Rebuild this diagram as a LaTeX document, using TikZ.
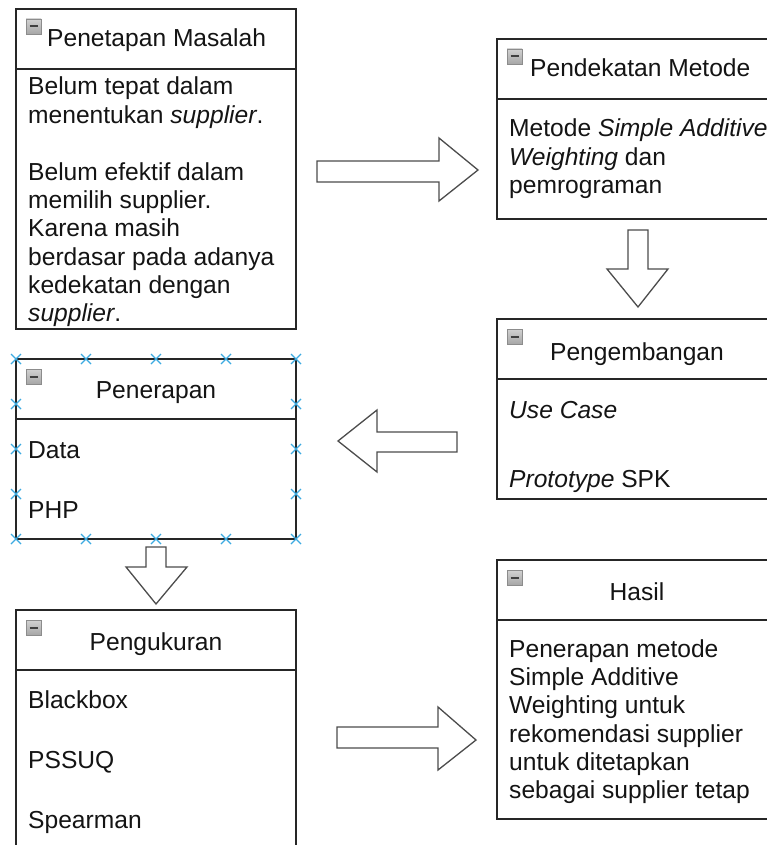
\documentclass[tikz,border=0pt]{standalone}
\usepackage{fontspec}
\setmainfont{Liberation Sans}
\newcommand{\collapseicon}[1]{%
  \path[icon] (#1.north west) ++(10,10) rectangle ++(15,15);
  \draw[black!75, line width=2pt] (#1.north west) ++(13.5,17.5) -- ++(8,0);
}
\newcommand{\hdrdivider}[1]{%
  \draw[boxline] (#1.north west) ++(0,60) -- ++(280,0);
}
\begin{document}
\begin{tikzpicture}[x=1pt,y=-1pt,
  boxnode/.style={draw=black!85, line width=1.6pt, fill=white, inner sep=0pt, outer sep=0pt, minimum width=280pt, anchor=north west},
  boxline/.style={draw=black!85, line width=1.6pt},
  hdr/.style={font=\fontsize{24.6}{28.3}\selectfont, text=black!92, inner sep=0pt, anchor=base},
  hdrl/.style={hdr, anchor=base west},
  body/.style={font=\fontsize{24.6}{28.3}\selectfont, text=black!92, inner sep=0pt, anchor=base west},
  blockarrow/.style={draw=black!70, line width=1.3pt, fill=white, line join=miter},
  marker/.style={draw={rgb,255:red,60;green,170;blue,225}, line width=1.3pt},
  icon/.style={draw=black!45, line width=0.8pt, top color=black!6, bottom color=black!35}
]
\useasboundingbox (0,0) rectangle (767,845);
\clip (0,0) rectangle (767,845);

% boxes
\node[boxnode, minimum height=320pt] (masalah) at (16,9) {};
\node[boxnode, minimum height=180pt] (metode) at (497,39) {};
\node[boxnode, minimum height=180pt] (penerapan) at (16,359) {};
\node[boxnode, minimum height=180pt] (pengembangan) at (497,319) {};
\node[boxnode, minimum height=260pt] (pengukuran) at (16,610) {};
\node[boxnode, minimum height=259pt] (hasil) at (497,560) {};

\hdrdivider{masalah}
\hdrdivider{metode}
\hdrdivider{penerapan}
\hdrdivider{pengembangan}
\hdrdivider{pengukuran}
\hdrdivider{hasil}

\collapseicon{masalah}
\collapseicon{metode}
\collapseicon{penerapan}
\collapseicon{pengembangan}
\collapseicon{pengukuran}
\collapseicon{hasil}

% headers
\node[hdrl] (h1) at (47,47) {Penetapan Masalah};
\node[hdrl] (h2) at (530,77) {Pendekatan Metode};
\node[hdr] (h3) at (156,398) {Penerapan};
\node[hdr] (h4) at (637,360) {Pengembangan};
\node[hdr] (h5) at (156,650) {Pengukuran};
\node[hdr] (h6) at (637,600) {Hasil};

% body texts
\begin{scope}
\clip (17,70) rectangle (295,328);
\node[body] (m1) at (28,95) {Belum tepat dalam};
\node[body] (m2) at (28,123.33) {menentukan \textit{supplier}.};
\node[body] (m3) at (28,180) {Belum efektif dalam};
\node[body] (m4) at (28,208.33) {memilih supplier.};
\node[body] (m5) at (28,236.67) {Karena masih};
\node[body] (m6) at (28,265) {berdasar pada adanya};
\node[body] (m7) at (28,293.33) {kedekatan dengan};
\node[body] (m8) at (28,321.67) {\textit{supplier}.};
\end{scope}

\node[body] (t1) at (509,137) {Metode \textit{Simple Additive}};
\node[body] (t2) at (509,165.33) {\textit{Weighting} dan};
\node[body] (t3) at (509,193.67) {pemrograman};

\node[body] (p1) at (28,458) {Data};
\node[body] (p2) at (28,518) {PHP};

\node[body] (g1) at (509,418) {\textit{Use Case}};
\node[body] (g2) at (509,487) {\textit{Prototype} SPK};

\node[body] (u1) at (28,708) {Blackbox};
\node[body] (u2) at (28,768) {PSSUQ};
\node[body] (u3) at (28,828) {Spearman};

\node[body] (r1) at (509,657) {Penerapan metode};
\node[body] (r2) at (509,685.33) {Simple Additive};
\node[body] (r3) at (509,713.67) {Weighting untuk};
\node[body] (r4) at (509,742) {rekomendasi supplier};
\node[body] (r5) at (509,770.33) {untuk ditetapkan};
\node[body] (r6) at (509,798.67) {sebagai supplier tetap};

% block arrows
\path[blockarrow] (317,161) -- (439,161) -- (439,138) -- (478,170) -- (439,201) -- (439,182) -- (317,182) -- cycle;
\path[blockarrow] (628,230) -- (648,230) -- (648,269) -- (668,269) -- (638,307) -- (607,269) -- (628,269) -- cycle;
\path[blockarrow] (457,432) -- (377,432) -- (377,410) -- (338,441) -- (377,472) -- (377,452) -- (457,452) -- cycle;
\path[blockarrow] (146,547) -- (166,547) -- (166,567) -- (187,567) -- (156,604) -- (126,567) -- (146,567) -- cycle;
\path[blockarrow] (337,727) -- (438,727) -- (438,707) -- (476,740) -- (438,770) -- (438,748) -- (337,748) -- cycle;

% selection markers
\foreach \mx in {16,86,156,226,296} {
  \draw[marker] (\mx-5,354) -- (\mx+5,364) (\mx-5,364) -- (\mx+5,354);
  \draw[marker] (\mx-5,534) -- (\mx+5,544) (\mx-5,544) -- (\mx+5,534);
}
\foreach \my in {404,449,494} {
  \draw[marker] (11,\my-5) -- (21,\my+5) (11,\my+5) -- (21,\my-5);
  \draw[marker] (291,\my-5) -- (301,\my+5) (291,\my+5) -- (301,\my-5);
}
\end{tikzpicture}
\end{document}
